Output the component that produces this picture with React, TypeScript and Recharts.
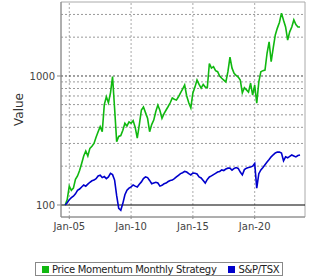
import React from 'react';
import { LineChart, Line, XAxis, YAxis, ReferenceLine, ReferenceArea } from 'recharts';

// two-monthly samples starting Sep 2004
const START = 2004 + 8 / 12;

const strategy = [
  100, 110,
  140, 130, 135, 158, 168, 185,
  210, 240, 262, 240, 275, 285,
  300, 335, 370, 405, 370, 600,
  690, 620, 740, 990, 560, 310,
  340, 345, 380, 430, 410, 440,
  430, 450, 400, 330, 420, 545,
  575, 520, 470, 370, 420, 455,
  530, 595, 540, 470, 510, 545,
  580, 620, 675, 660, 650, 690,
  740, 790, 850, 700, 620, 565,
  740, 820, 930, 860, 805, 860,
  820, 810, 1250, 1150, 1180, 1100,
  1080, 1000, 960, 930, 900, 1080,
  1400, 1150, 1050, 1010, 980, 930,
  740, 810, 780, 750, 880, 710,
  850, 615, 900, 1080, 1100, 1110,
  1500, 1840, 1290, 1650, 2080, 2350,
  2600, 3070, 2700, 2400, 1900, 2200,
  2400, 2720, 2500, 2400, 2400,
];

const tsx = [
  100, 104,
  110, 114, 117, 122, 130, 133,
  138, 143, 140, 145, 150, 154,
  156, 160, 168, 170, 163, 166,
  160, 165, 176, 172, 156, 118,
  94, 91, 103, 120, 130, 135,
  138, 143, 140, 138, 145, 151,
  160, 165, 163, 155, 146, 148,
  150, 148, 140, 142, 146, 148,
  152, 155, 156, 160, 165, 170,
  175, 178, 182, 180, 175, 171,
  177, 176, 174, 165, 162, 155,
  148, 158, 165, 168, 172, 176,
  180, 182, 187, 185, 190, 193,
  193, 186, 192, 195, 192, 180,
  171, 188, 193, 195, 197, 200,
  210, 135, 175, 187, 195, 205,
  215, 225, 236, 245, 253, 257,
  257, 253, 220, 236, 232, 238,
  244, 240, 236, 242, 244,
];

const xTicks = [2005, 2010, 2015, 2020];
const xTickLabels = ['Jan-05', 'Jan-10', 'Jan-15', 'Jan-20'];
const yTicks = [100, 1000];
const minorGrid = [200, 300, 400, 500, 600, 700, 800, 900, 2000, 3000];

const X_DOMAIN: [number, number] = [2004.33, 2024.07];
const Y_DOMAIN: [number, number] = [80.7, 3746];

const data = strategy.map((v, i) => ({ t: START + i / 6, strategy: v, tsx: tsx[i] }));

const font = { fontFamily: 'DejaVu Sans', fontSize: 10, fill: '#444' };

export default function App() {
  return (
    <div style={{ position: 'absolute', left: 0, top: 0, width: 320, height: 280, background: '#fff', fontFamily: 'DejaVu Sans' }}>
      <LineChart width={320} height={245} data={data} margin={{ top: 2, right: 15, left: 0, bottom: 0 }}>
        <XAxis
          dataKey="t"
          type="number"
          domain={X_DOMAIN}
          allowDataOverflow
          ticks={xTicks}
          tickFormatter={(v: number) => xTickLabels[xTicks.indexOf(v)]}
          height={28}
          tick={font}
          tickSize={2}
          tickMargin={4}
          stroke="#888"
        />
        <YAxis
          scale="log"
          domain={Y_DOMAIN}
          allowDataOverflow
          ticks={yTicks}
          width={61}
          tick={font}
          tickSize={4}
          tickMargin={2}
          stroke="#888"
          label={{ value: 'Value', angle: -90, position: 'insideLeft', offset: 19, style: { textAnchor: 'middle', fontFamily: 'DejaVu Sans', fontSize: 12, fill: '#333' } }}
        />
        {xTicks.map((x) => (
          <ReferenceLine key={'vx' + x} x={x} stroke="#aaa" strokeDasharray="2 2" />
        ))}
        {minorGrid.map((y) => (
          <ReferenceLine key={'gy' + y} y={y} stroke="#999" strokeDasharray="2 2" />
        ))}
        <ReferenceLine y={1000} stroke="#444" strokeDasharray="2 2" />
        <ReferenceLine y={100} stroke="#000" strokeWidth={1.2} />
        <ReferenceArea x1={X_DOMAIN[0]} x2={X_DOMAIN[1]} y1={Y_DOMAIN[0]} y2={Y_DOMAIN[1]} fill="none" stroke="#aaa" />
        <Line dataKey="strategy" stroke="#10b810" strokeWidth={1.6} dot={false} isAnimationActive={false} />
        <Line dataKey="tsx" stroke="#0000cc" strokeWidth={1.6} dot={false} isAnimationActive={false} />
      </LineChart>
      <div
        style={{
          position: 'absolute',
          left: 35,
          top: 262,
          width: 246,
          height: 12,
          border: '1px solid #888',
          fontSize: 10,
          letterSpacing: -0.3,
          color: '#222',
          display: 'flex',
          alignItems: 'center',
          whiteSpace: 'nowrap',
        }}
      >
        <span style={{ display: 'inline-block', width: 7, height: 7, background: '#10b810', marginLeft: 6, marginRight: 3 }} />
        <span>Price Momentum Monthly Strategy</span>
        <span style={{ display: 'inline-block', width: 7, height: 7, background: '#0000cc', marginLeft: 11, marginRight: 4 }} />
        <span>S&amp;P/TSX</span>
      </div>
    </div>
  );
}
